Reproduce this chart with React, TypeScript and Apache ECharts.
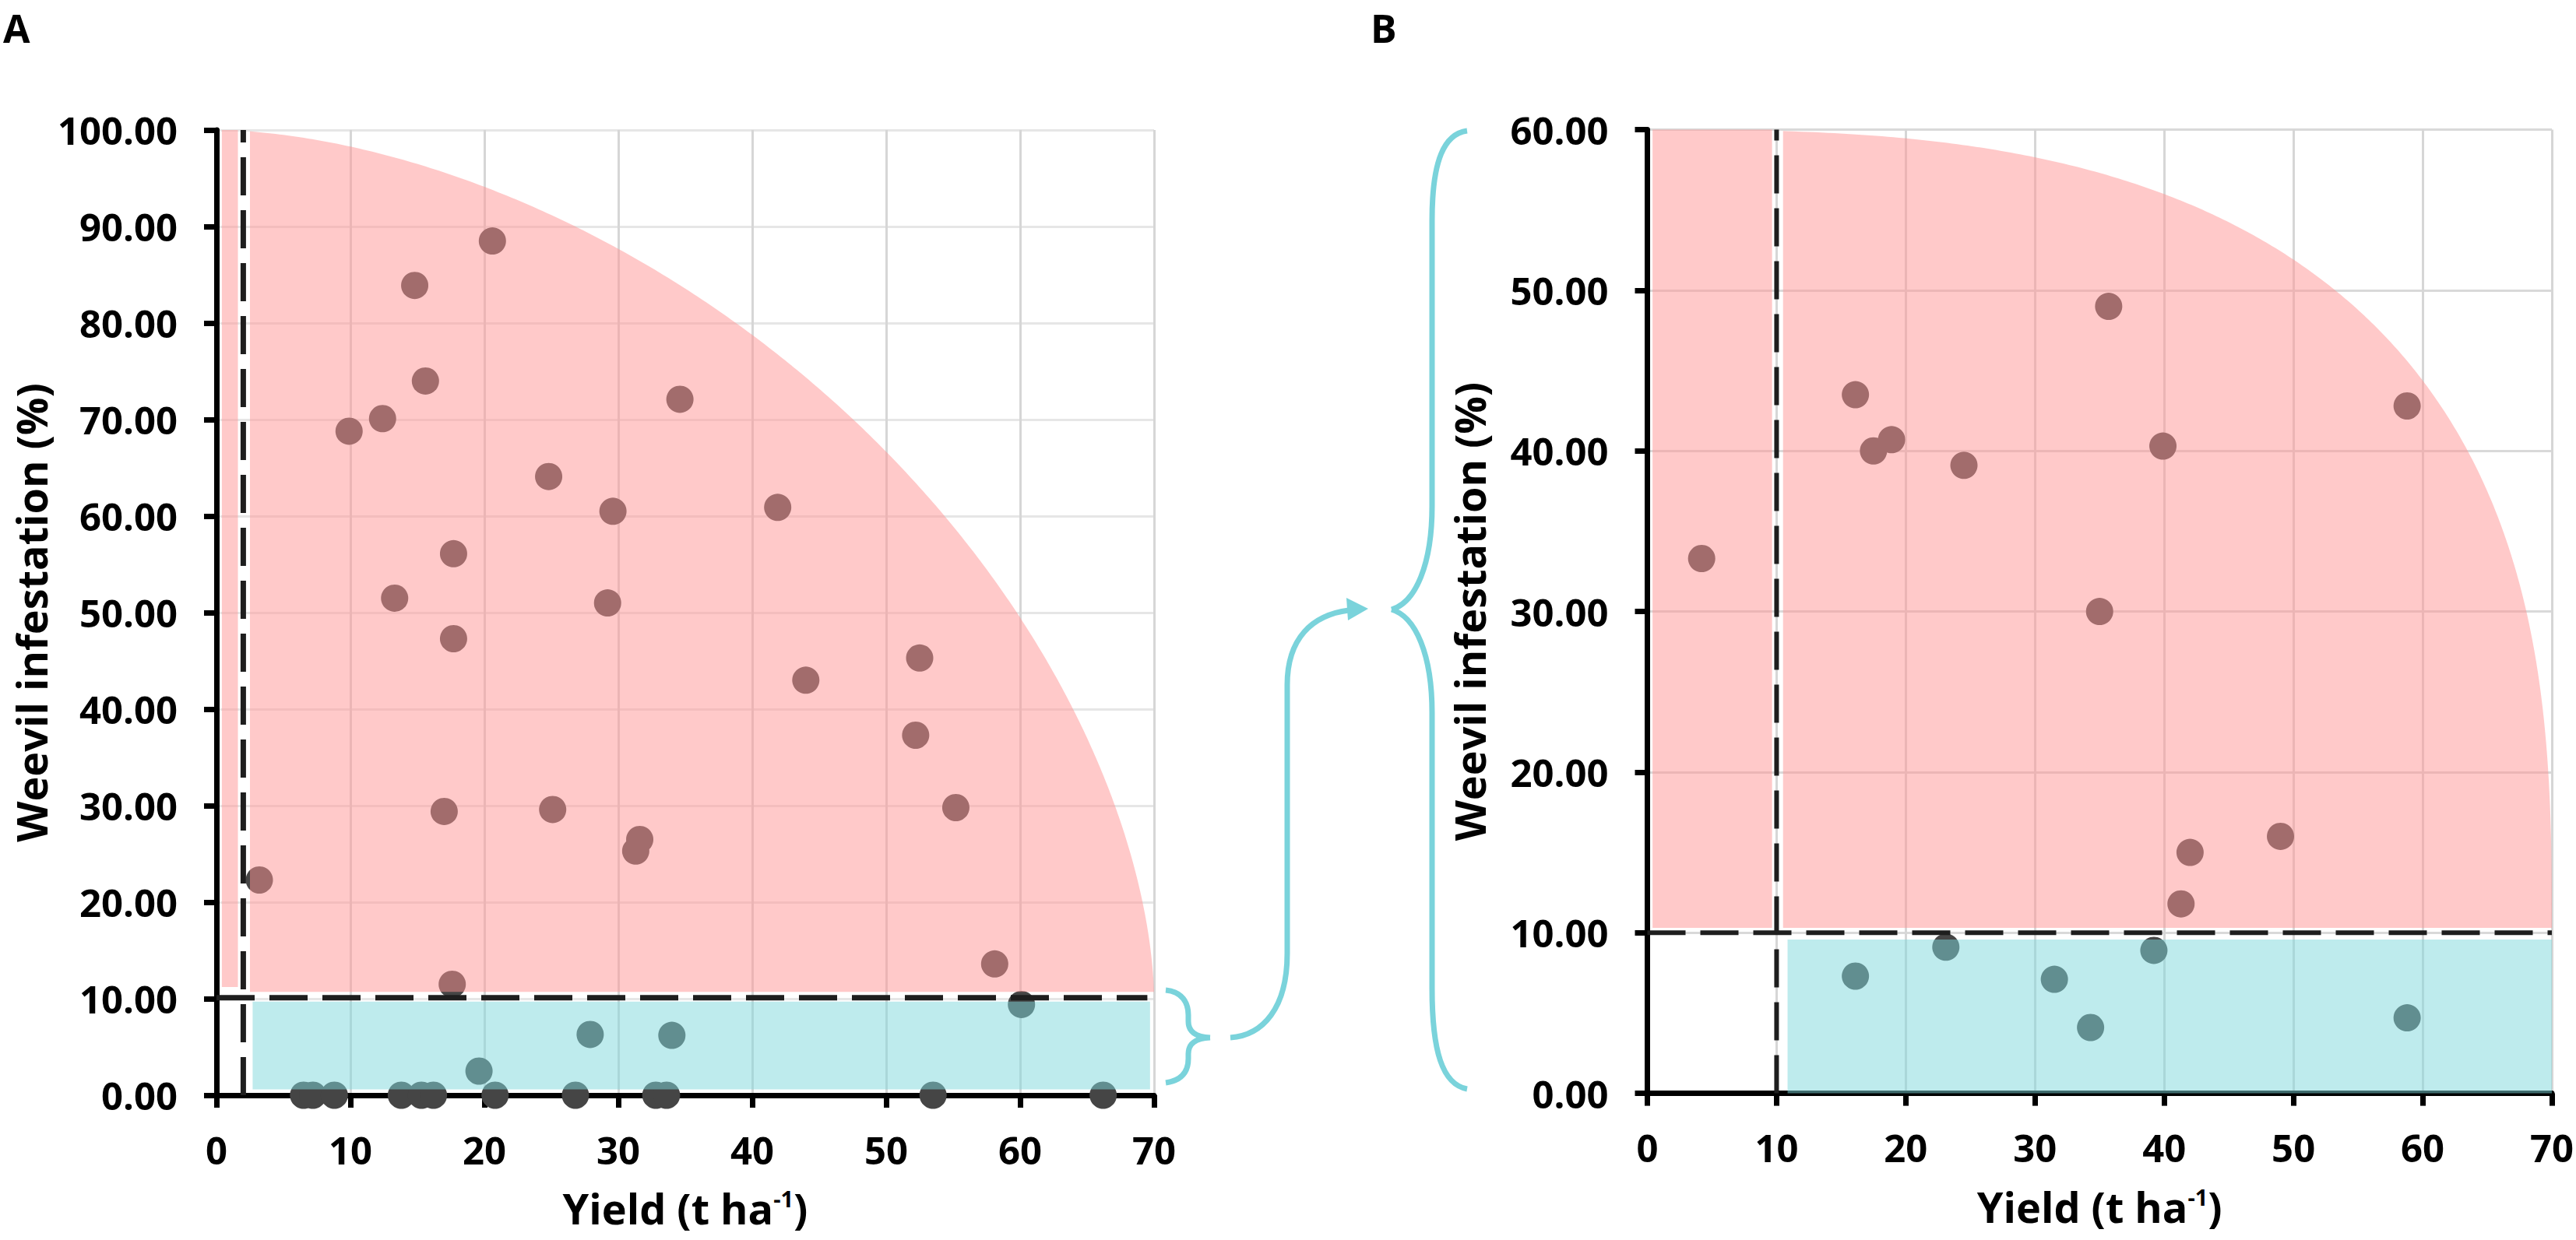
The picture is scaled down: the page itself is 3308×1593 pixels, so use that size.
import React, { useEffect, useRef } from "react";
import * as echarts from "echarts";

// ---------------- data ----------------
const yieldTicks = [0, 10, 20, 30, 40, 50, 60, 70];
const infestationTicksA = [0, 10, 20, 30, 40, 50, 60, 70, 80, 90, 100];
const infestationTicksB = [0, 10, 20, 30, 40, 50, 60];

// Panel A: [yield t/ha, weevil infestation %]
const panelAInfested: number[][] = [
  [20.6, 88.5], [14.8, 83.9], [15.6, 74.0], [9.9, 68.8], [12.4, 70.1],
  [34.6, 72.1], [24.8, 64.1], [29.6, 60.5], [41.9, 60.9], [17.7, 56.1],
  [13.3, 51.5], [29.2, 51.0], [17.7, 47.3], [52.5, 45.3], [44.0, 43.0],
  [52.2, 37.3], [55.2, 29.8], [17.0, 29.4], [25.1, 29.6], [31.3, 25.3],
  [31.6, 26.5], [3.2, 22.3], [58.1, 13.6], [17.6, 11.5],
];
const panelANonInfested: number[][] = [
  [60.1, 9.4], [27.9, 6.3], [34.0, 6.2], [19.6, 2.5],
  [6.5, 0], [7.2, 0], [8.8, 0], [13.8, 0], [15.3, 0], [16.2, 0],
  [20.8, 0], [26.8, 0], [32.8, 0], [33.6, 0], [53.5, 0], [66.2, 0],
];
// Panel B
const panelBInfested: number[][] = [
  [4.2, 33.3], [16.1, 43.5], [17.5, 40.0], [18.9, 40.7], [24.5, 39.1],
  [35.7, 49.0], [35.0, 30.0], [39.9, 40.3], [58.8, 42.8], [42.0, 15.0],
  [41.3, 11.8], [49.0, 16.0],
];
const panelBNonInfested: number[][] = [
  [16.1, 7.3], [23.1, 9.1], [31.5, 7.1], [34.3, 4.1], [39.2, 8.9], [58.8, 4.7],
];

// thresholds (dashed lines)
const thresholdA = { yieldCut: 2.0, infestCut: 10.1 };
const thresholdB = { yieldCut: 10, infestCut: 10 };

// ---------------- styling / geometry ----------------
const FONT = "'Open Sans', 'Noto Sans', sans-serif";
const PINK = "rgba(255,147,147,0.5)";
const BLUE = "rgba(125,215,219,0.5)";
const CYAN = "#7AD3DB";
const DOT = "#454545";

type Shape =
  | { kind: "rect"; x0: number; x1: number; y0: number; y1: number; fill: string }
  | { kind: "curve"; xL: number; yB: number; y0: number; a: number; b: number; n: number; fill: string };

const regionsA: Shape[] = [
  { kind: "rect", x0: 0.4, x1: 1.6, y0: 11.2, y1: 100, fill: PINK },
  { kind: "curve", xL: 2.5, yB: 10.7, y0: 10, a: 70, b: 90, n: 1.75, fill: PINK },
  { kind: "rect", x0: 2.7, x1: 69.7, y0: 0.6, y1: 9.7, fill: BLUE },
];
const regionsB: Shape[] = [
  { kind: "rect", x0: 0.4, x1: 9.65, y0: 10.3, y1: 60, fill: PINK },
  { kind: "curve", xL: 10.5, yB: 10.3, y0: 10, a: 70, b: 50, n: 2.8, fill: PINK },
  { kind: "rect", x0: 10.85, x1: 70, y0: 0, y1: 9.58, fill: BLUE },
];

const SMALL_BRACE =
  "M1497,1272 C1518,1274 1526,1288 1526,1304 L1526,1312 C1526,1326 1536,1332 1554,1333 " +
  "M1554,1333 C1536,1334 1526,1340 1526,1354 L1526,1360 C1526,1376 1518,1388 1497,1391";
const ARROW_CURVE =
  "M1580,1333 C1622,1330 1653,1295 1653,1225 L1653,880 C1653,820 1685,790 1732,784";
const BIG_BRACE =
  "M1884,168 C1855,172 1839,205 1839,283 L1839,650 C1839,725 1818,774 1787,783 " +
  "M1787,783 C1818,792 1839,841 1839,916 L1839,1270 C1839,1350 1852,1393 1884,1399";

let shapesRegistered = false;
function registerShapes() {
  if (shapesRegistered) return;
  shapesRegistered = true;
  echarts.graphic.registerShape("braceSmall", echarts.graphic.extendPath(SMALL_BRACE, {}) as any);
  echarts.graphic.registerShape("arrowCurve", echarts.graphic.extendPath(ARROW_CURVE, {}) as any);
  echarts.graphic.registerShape("braceBig", echarts.graphic.extendPath(BIG_BRACE, {}) as any);
}

function shapePolygon(s: Shape, api: any) {
  if (s.kind === "rect") {
    return [
      api.coord([s.x0, s.y0]),
      api.coord([s.x1, s.y0]),
      api.coord([s.x1, s.y1]),
      api.coord([s.x0, s.y1]),
    ];
  }
  const pts: number[][] = [api.coord([s.xL, s.yB])];
  const N = 300;
  for (let i = N; i >= 0; i--) {
    const t = ((Math.PI / 2) * i) / N;
    let x = s.a * Math.pow(Math.max(Math.cos(t), 0), 2 / s.n);
    let y = s.y0 + s.b * Math.pow(Math.max(Math.sin(t), 0), 2 / s.n);
    if (x < s.xL) x = s.xL;
    if (y < s.yB) y = s.yB;
    pts.push(api.coord([x, y]));
  }
  return pts;
}

function regionSeries(idx: number, shapes: Shape[]) {
  return {
    type: "custom",
    xAxisIndex: idx,
    yAxisIndex: idx,
    z: 3,
    silent: true,
    data: [[0, 0]],
    renderItem: (_p: any, api: any) => ({
      type: "group",
      children: shapes.map((s) => ({
        type: "polygon",
        shape: { points: shapePolygon(s, api) },
        style: { fill: s.fill, stroke: "none" },
      })),
    }),
  };
}

function thresholdSeries(idx: number, cut: { yieldCut: number; infestCut: number }, yMax: number, hEnd: number, width: number) {
  return {
    type: "custom",
    xAxisIndex: idx,
    yAxisIndex: idx,
    z: 4,
    silent: true,
    data: [[0, 0]],
    renderItem: (_p: any, api: any) => {
      const v0 = api.coord([cut.yieldCut, 0]);
      const v1 = api.coord([cut.yieldCut, yMax]);
      const h0 = api.coord([0, cut.infestCut]);
      const h1 = api.coord([hEnd, cut.infestCut]);
      const style = { stroke: "#1E1E1E", lineWidth: width, lineDash: [49, 19], fill: "none" };
      return {
        type: "group",
        children: [
          { type: "line", shape: { x1: v0[0], y1: v0[1], x2: v1[0], y2: v1[1] }, style },
          { type: "line", shape: { x1: h0[0], y1: h0[1], x2: h1[0], y2: h1[1] }, style },
        ],
      };
    },
  };
}

function xAxis(idx: number, gridColor: string) {
  return {
    type: "value",
    gridIndex: idx,
    min: yieldTicks[0],
    max: yieldTicks[yieldTicks.length - 1],
    interval: yieldTicks[1] - yieldTicks[0],
    axisLine: { show: true, onZero: false, lineStyle: { color: "#000", width: 7 } },
    axisTick: { show: true, length: 16, lineStyle: { color: "#000", width: 7 } },
    axisLabel: { margin: 45, fontFamily: FONT, fontWeight: "bold", fontSize: 49, color: "#000" },
    splitLine: { show: true, lineStyle: { color: gridColor, width: 3 } },
    name: "{a|Yield (t ha}{s|-1}{a|)}",
    nameLocation: "middle",
    nameGap: 118,
    nameTextStyle: {
      rich: {
        a: { fontFamily: FONT, fontWeight: "bold", fontSize: 54, lineHeight: 54, color: "#000" },
        s: { fontFamily: FONT, fontWeight: "bold", fontSize: 29, lineHeight: 30, verticalAlign: "top", color: "#000" },
      },
    },
  };
}

function yAxis(idx: number, ticks: number[], gap: number, gridColor: string) {
  return {
    type: "value",
    gridIndex: idx,
    min: ticks[0],
    max: ticks[ticks.length - 1],
    interval: ticks[1] - ticks[0],
    axisLine: { show: true, onZero: false, lineStyle: { color: "#000", width: 7 } },
    axisTick: { show: true, length: 16, lineStyle: { color: "#000", width: 7 } },
    axisLabel: {
      margin: 50,
      fontFamily: FONT,
      fontWeight: "bold",
      fontSize: 49,
      color: "#000",
      formatter: (v: number) => v.toFixed(2),
    },
    splitLine: { show: true, lineStyle: { color: gridColor, width: 3 } },
    name: "Weevil infestation (%)",
    nameLocation: "middle",
    nameRotate: 90,
    nameGap: gap,
    nameTextStyle: { fontFamily: FONT, fontWeight: "bold", fontSize: 54, lineHeight: 54, color: "#000" },
  };
}

function dots(idx: number, data: number[][]) {
  return {
    type: "scatter",
    xAxisIndex: idx,
    yAxisIndex: idx,
    data,
    symbol: "circle",
    symbolSize: 35,
    itemStyle: { color: DOT, opacity: 1 },
    z: 2,
    silent: true,
  };
}

export default function App() {
  const ref = useRef<HTMLDivElement>(null);
  useEffect(() => {
    if (!ref.current) return;
    registerShapes();
    const chart = echarts.init(ref.current, null, { renderer: "svg" });
    const option: any = {
      animation: false,
      backgroundColor: "#fff",
      grid: [
        { left: 278, top: 167, width: 1204, height: 1240 },
        { left: 2115.5, top: 166.6, width: 1163.5, height: 1238 },
      ],
      xAxis: [xAxis(0, "#D6D6D6"), xAxis(1, "#D6D6D6")],
      yAxis: [yAxis(0, infestationTicksA, 211, "#E6E6E6"), yAxis(1, infestationTicksB, 202, "#D9D9D9")],
      series: [
        dots(0, panelAInfested),
        dots(0, panelANonInfested),
        dots(1, panelBInfested),
        dots(1, panelBNonInfested),
        regionSeries(0, regionsA),
        regionSeries(1, regionsB),
        thresholdSeries(0, thresholdA, 100, 69.5, 7),
        thresholdSeries(1, thresholdB, 60, 70, 6),
      ],
      graphic: {
        elements: [
          {
            type: "text",
            x: 4,
            y: 36,
            style: {
              text: "A",
              fontFamily: FONT,
              fontWeight: "bold",
              fontSize: 50,
              lineHeight: 50,
              fill: "#000",
              align: "left",
              verticalAlign: "middle",
            },
          },
          {
            type: "text",
            x: 1760,
            y: 36,
            style: {
              text: "B",
              fontFamily: FONT,
              fontWeight: "bold",
              fontSize: 50,
              lineHeight: 50,
              fill: "#000",
              align: "left",
              verticalAlign: "middle",
            },
          },
          { type: "braceSmall", x: 0, y: 0, style: { stroke: CYAN, lineWidth: 7, fill: "none" } },
          { type: "arrowCurve", x: 0, y: 0, style: { stroke: CYAN, lineWidth: 7, fill: "none" } },
          { type: "braceBig", x: 0, y: 0, style: { stroke: CYAN, lineWidth: 7, fill: "none" } },
          {
            type: "polygon",
            shape: { points: [[1757, 782], [1729, 768], [1731, 797]] },
            style: { fill: CYAN },
          },
        ],
      },
    };
    chart.setOption(option);
    return () => chart.dispose();
  }, []);
  return (
    <div
      ref={ref}
      style={{ position: "fixed", left: 0, top: 0, width: 3308, height: 1593, background: "#fff" }}
    />
  );
}
